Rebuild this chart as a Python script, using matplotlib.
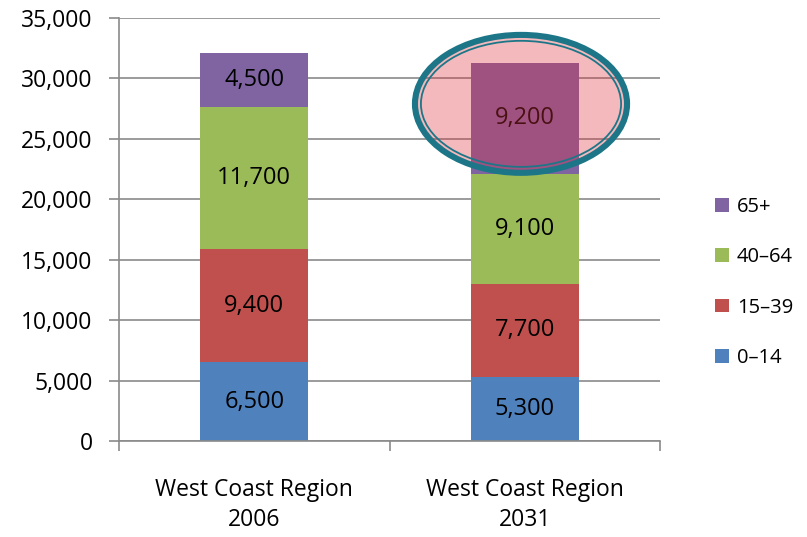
import numpy as np
import matplotlib.pyplot as plt
from matplotlib.patches import Ellipse, Patch
from matplotlib.ticker import FuncFormatter

plt.rcParams['font.family'] = ['Open Sans', 'DejaVu Sans']

# population by age group, West Coast Region
regions = ['West Coast Region\n2006', 'West Coast Region\n2031']
age_groups = ['0–14', '15–39', '40–64', '65+']
age_0_14 = [6500, 5300]
age_15_39 = [9400, 7700]
age_40_64 = [11700, 9100]
age_65_plus = [4500, 9200]
colours = ['#4F81BD', '#C0504D', '#9BBB59', '#8064A2']

series = [age_0_14, age_15_39, age_40_64, age_65_plus]

fig = plt.figure(figsize=(8.07, 5.37), dpi=100)
ax = fig.add_axes([0.1475, 0.1788, 0.6704, 0.7877])

x = np.arange(len(regions))
bottom = np.zeros(len(regions))
for vals, col in zip(series, colours):
    vals = np.array(vals, dtype=float)
    ax.bar(x, vals, width=0.4, bottom=bottom, color=col, zorder=2)
    for xi, b, v in zip(x, bottom, vals):
        ax.text(xi, b + v / 2, f'{int(v):,}', ha='center', va='center',
                fontsize=17, color='black', zorder=3)
    bottom += vals

ax.set_xlim(-0.5, 1.5)
ax.set_ylim(0, 35000)
ax.set_yticks(np.arange(0, 35001, 5000))
ax.yaxis.set_major_formatter(FuncFormatter(lambda v, p: f'{int(v):,}'))
ax.yaxis.grid(True, color='#8a8a8a', linewidth=1.2, zorder=0)
ax.set_axisbelow(True)

# category boundaries get the tick marks, labels sit in between
ax.set_xticks([-0.5, 0.5, 1.5])
ax.set_xticklabels([])
ax.set_xticks(x, minor=True)
ax.set_xticklabels(regions, minor=True, fontsize=16.5, linespacing=1.3)
ax.tick_params(axis='x', which='major', direction='out', length=7,
               width=1.2, color='#8a8a8a')
ax.tick_params(axis='x', which='minor', length=0, pad=27)
ax.tick_params(axis='y', direction='out', length=7, width=1.2,
               color='#8a8a8a', labelsize=16.5, pad=12)

for side in ['top', 'right']:
    ax.spines[side].set_visible(False)
for side in ['left', 'bottom']:
    ax.spines[side].set_color('#8a8a8a')
    ax.spines[side].set_linewidth(1.2)

# highlight around the 2031 65+ segment: tinted fill, thick outer ring, thin inner ring
cx, cy = 0.743, 0.797
ax.add_patch(Ellipse((cx, cy), 0.392, 0.326, transform=ax.transAxes,
                     facecolor='#DC323C', alpha=0.34, edgecolor='none',
                     zorder=4, clip_on=False))
ax.add_patch(Ellipse((cx, cy), 0.392, 0.326, transform=ax.transAxes,
                     facecolor='none', edgecolor='#1C7688', linewidth=4.4,
                     zorder=5, clip_on=False))
ax.add_patch(Ellipse((cx, cy), 0.370, 0.298, transform=ax.transAxes,
                     facecolor='none', edgecolor='#1C7688', linewidth=1.3,
                     zorder=5, clip_on=False))

handles = [Patch(facecolor=c, edgecolor='none') for c in colours][::-1]
fig.legend(handles, age_groups[::-1], loc='center left',
           bbox_to_anchor=(0.866, 0.474), frameon=False, fontsize=14.5,
           handlelength=0.68, handleheight=0.68, handletextpad=0.4,
           labelspacing=1.5, borderpad=0.3)

fig.savefig('out.png', dpi=100)
